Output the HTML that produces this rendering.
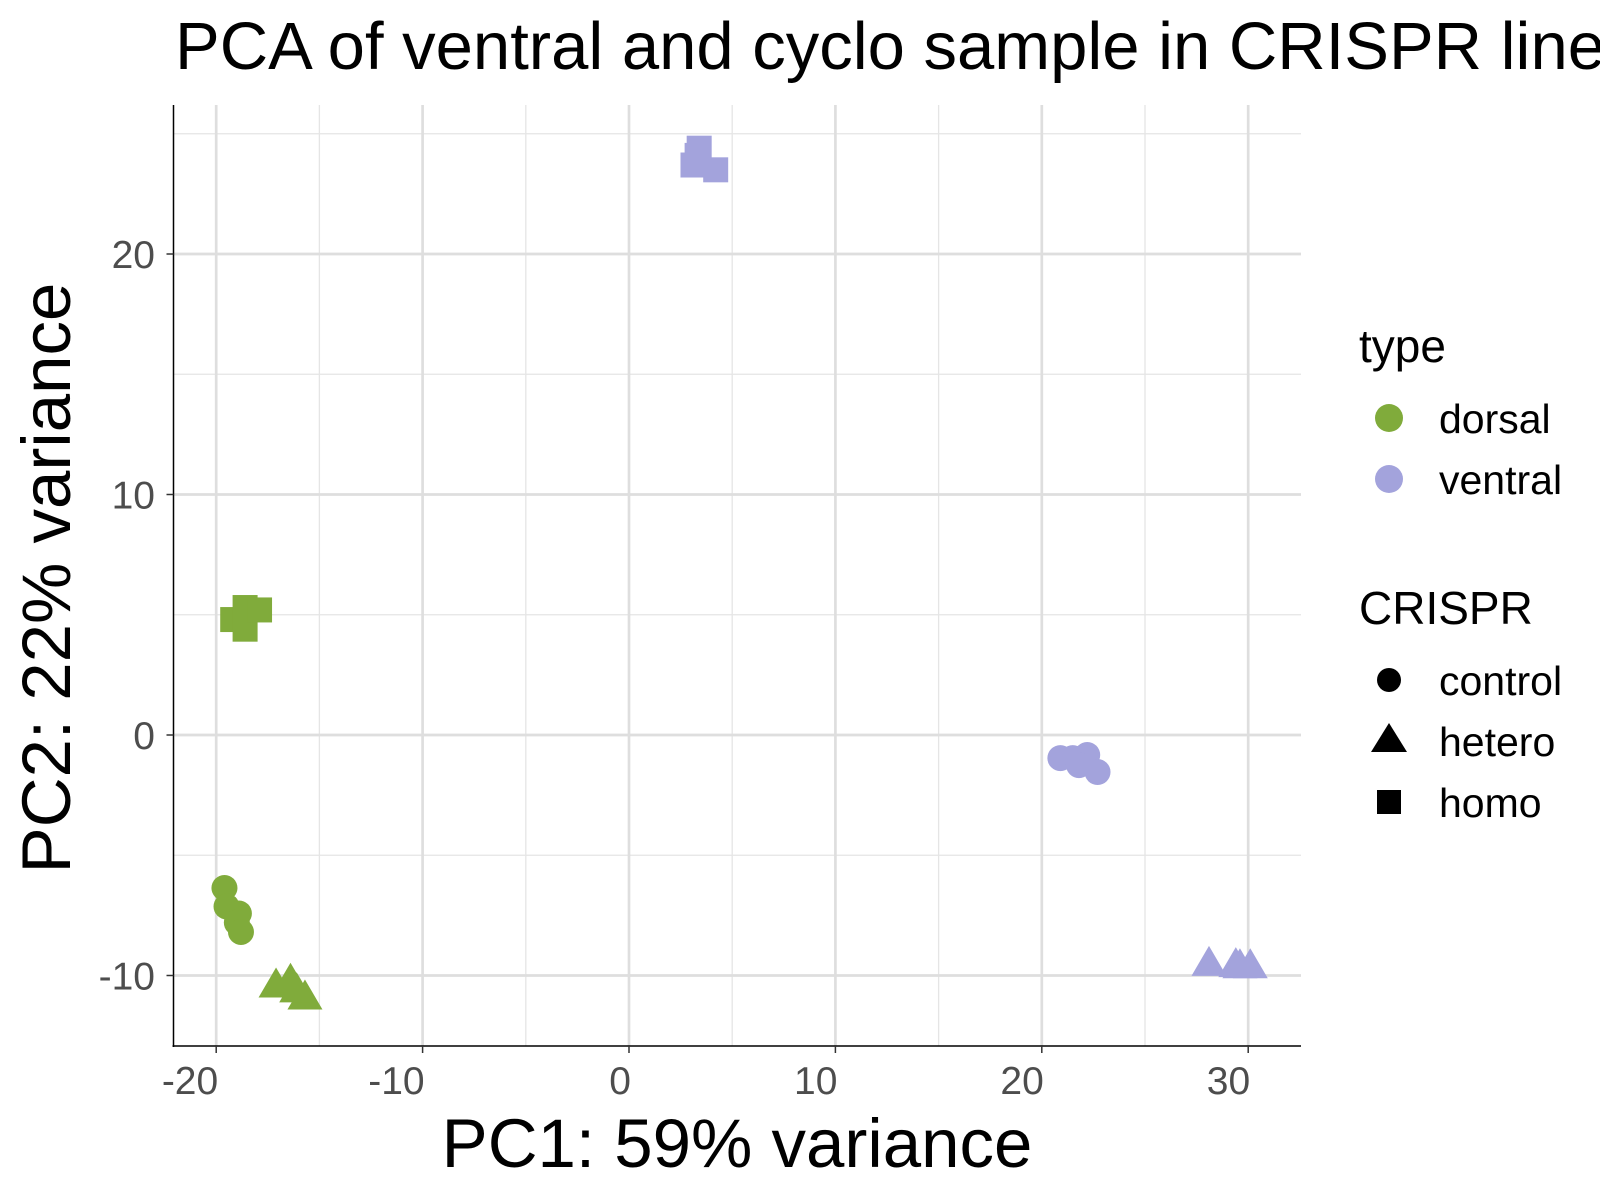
<!DOCTYPE html>
<html><head><meta charset="utf-8"><style>
html,body{margin:0;padding:0;background:#fff;}
svg{display:block;font-family:"Liberation Sans",sans-serif;}
</style></head><body>
<svg id="chart" width="1600" height="1200"></svg>
<script>
const groupType = ["dorsal","dorsal","dorsal","dorsal","dorsal","dorsal","dorsal","dorsal","dorsal","dorsal","dorsal","dorsal","dorsal","ventral","ventral","ventral","ventral","ventral","ventral","ventral","ventral","ventral","ventral","ventral","ventral","ventral"];
const groupShape = ["control","control","control","control","control","hetero","hetero","hetero","hetero","homo","homo","homo","homo","homo","homo","homo","homo","control","control","control","control","control","hetero","hetero","hetero","hetero"];
const pc1 = [-19.6,-19.5,-18.9,-19.0,-18.8,-17.1,-16.4,-15.7,-16.1,-19.2,-18.6,-18.6,-17.9,3.3,4.2,3.1,3.4,20.9,21.5,22.2,21.8,22.7,28.1,29.4,30.1,29.6];
const pc2 = [-6.36,-7.13,-7.42,-7.8,-8.19,-10.5,-10.3,-11.0,-10.7,4.8,5.3,4.4,5.2,24.1,23.5,23.7,24.4,-0.96,-0.96,-0.83,-1.25,-1.54,-9.6,-9.65,-9.7,-9.7];
const xTicks = [-20,-10,0,10,20,30];
const xMinor = [-15,-5,5,15,25];
const yTicks = [-10,0,10,20];
const yMinor = [-5,5,15,25];

const NS="http://www.w3.org/2000/svg";
const svg=document.getElementById('chart');
const L=173.5,R=1301,T=105,B=1046;
const xs=v=>629+v*20.64;
const ys=v=>735-v*24.05;
const colors={dorsal:"#80ab3b",ventral:"#a3a3dc"};
function mk(tag,attrs,parent){const e=document.createElementNS(NS,tag);for(const k in attrs)e.setAttribute(k,attrs[k]);(parent||svg).appendChild(e);return e;}
function txt(s,attrs){const e=mk('text',attrs);e.textContent=s;return e;}

const grid=mk('g',{});


xMinor.forEach(v=>mk('line',{x1:xs(v),x2:xs(v),y1:T,y2:B,stroke:"#e5e5e5","stroke-width":1.3},grid));
yMinor.forEach(v=>mk('line',{x1:L,x2:R,y1:ys(v),y2:ys(v),stroke:"#e5e5e5","stroke-width":1.3},grid));
xTicks.forEach(v=>mk('line',{x1:xs(v),x2:xs(v),y1:T,y2:B,stroke:"#dedede","stroke-width":2.7},grid));
yTicks.forEach(v=>mk('line',{x1:L,x2:R,y1:ys(v),y2:ys(v),stroke:"#dedede","stroke-width":2.7},grid));

function shape(t,x,y,col,g){
  if(t==="control") return mk('circle',{cx:x,cy:y,r:13,fill:col},g);
  if(t==="hetero") return mk('polygon',{points:`${x},${y-20} ${x+17.5},${y+10} ${x-17.5},${y+10}`,fill:col},g);
  return mk('rect',{x:x-12.5,y:y-12.5,width:25,height:25,fill:col},g);
}
const pts=mk('g',{});


for(let i=0;i<pc1.length;i++){
  const e=shape(groupShape[i],xs(pc1[i]),ys(pc2[i]),colors[groupType[i]],pts);
  
  
}

const ax=mk('line',{x1:L,x2:L,y1:T,y2:B+1,stroke:"#000","stroke-width":1.5});

const bx=mk('line',{x1:L-1,x2:R,y1:B,y2:B,stroke:"#000","stroke-width":1.5});

xTicks.forEach(v=>{
  mk('line',{x1:xs(v),x2:xs(v),y1:B,y2:B+7,stroke:"#333","stroke-width":1.5});
  const t=txt(String(v),{x:xs(v)+2,y:1094,"text-anchor":"end","font-size":39,fill:"#4d4d4d"});
  
});
yTicks.forEach(v=>{
  mk('line',{x1:L-7,x2:L,y1:ys(v),y2:ys(v),stroke:"#333","stroke-width":1.5});
  const t=txt(String(v),{x:155,y:ys(v)+14,"text-anchor":"end","font-size":39,fill:"#4d4d4d"});
  
});
</script>
<svg style="position:absolute;left:0;top:0" width="1600" height="1200">
<text x="175" y="69" font-size="67" fill="#000">PCA of ventral and cyclo sample in CRISPR line</text>
<text x="737" y="1167" font-size="69" text-anchor="middle" fill="#000">PC1: 59% variance</text>
<text transform="translate(70,578) rotate(-90)" font-size="69" text-anchor="middle" fill="#000">PC2: 22% variance</text>
<g>
<text x="1359" y="362" font-size="46">type</text>
<circle cx="1389" cy="418" r="14" fill="#80ab3b"/>
<text x="1439" y="433" font-size="41">dorsal</text>
<circle cx="1389" cy="479" r="14" fill="#a3a3dc"/>
<text x="1439" y="494" font-size="41">ventral</text>
<text x="1359" y="624" font-size="46">CRISPR</text>
<circle cx="1389" cy="680" r="12" fill="#000"/>
<text x="1439" y="695" font-size="41">control</text>
<polygon points="1389,723 1407,752 1371,752" fill="#000"/>
<text x="1439" y="756" font-size="41">hetero</text>
<rect x="1377" y="790" width="24" height="24" fill="#000"/>
<text x="1439" y="817" font-size="41">homo</text>
</g>
</svg>
</body></html>
